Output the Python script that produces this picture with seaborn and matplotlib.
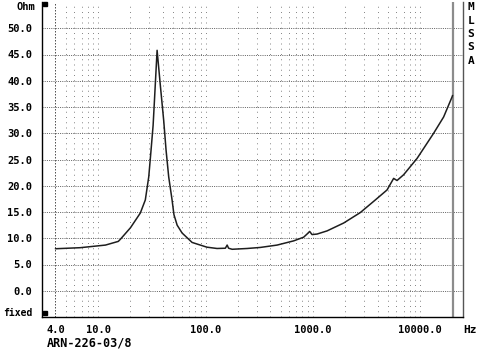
import numpy as np
import pandas as pd
import matplotlib
matplotlib.use("Agg")
import matplotlib.pyplot as plt
from matplotlib.patches import Rectangle
from matplotlib.ticker import FixedLocator, NullFormatter
import seaborn as sns

# Impedance sweep of the driver (Hz, Ohm)
freq_hz = [4.0, 6.8, 11.7, 15.4, 16.1, 20.0, 24.7, 27.5, 29.6, 31.1, 32.5, 33.4,
           35.4, 38.0, 40.8, 42.9, 45.4, 48.8, 50.8, 54.4, 60.5, 75.0,
           103, 128, 153, 159, 164, 177, 244, 324, 464, 662, 820, 882, 933,
           982, 1094, 1174, 1355, 1934, 2767, 3816, 4904, 5648, 6077, 7000,
           9331, 13320, 16500, 19760, 20000]
impedance_ohm = [8.0, 8.2, 8.7, 9.4, 9.8, 12.0, 14.8, 17.3, 21.7, 26.8, 31.5, 36.0,
                 45.8, 39.0, 32.4, 26.8, 21.7, 17.3, 14.5, 12.5, 11.0, 9.2,
                 8.3, 8.05, 8.1, 8.7, 8.1, 7.9, 8.05, 8.25, 8.7, 9.5, 10.2, 10.8, 11.3,
                 10.7, 10.8, 11.0, 11.4, 12.9, 14.9, 17.3, 19.2, 21.4, 21.0, 22.1,
                 25.2, 30.0, 33.1, 36.9, 37.2]

x_major = [4, 10, 100, 1000, 10000]
x_major_labels = ["4.0", "10.0", "100.0", "1000.0", "10000.0"]
x_minor = [m * 10 ** e for e in range(0, 4) for m in range(2, 10) if m * 10 ** e > 4]
y_major = [0, 5, 10, 15, 20, 25, 30, 35, 40, 45, 50]
y_major_labels = ["0.0", "5.0", "10.0", "15.0", "20.0", "25.0", "30.0", "35.0",
                  "40.0", "45.0", "50.0"]
x_limits = (3, 25000)
y_limits = (-5, 55)
f_start = 4
f_stop = 20000

sns.set_theme(style="white")
plt.rcParams["font.family"] = ["DejaVu Sans Mono"]
plt.rcParams["font.weight"] = "bold"

W, H = 480, 350
fig = plt.figure(figsize=(W / 100, H / 100), dpi=100)
fig.patch.set_facecolor("white")
ax = fig.add_axes([42 / W, 1 - 317 / H, 421 / W, 315 / H])
ax.set_facecolor("white")

px = 0.72  # one pixel in points

ax.set_xscale("log")
ax.set_xlim(*x_limits)
ax.set_ylim(*y_limits)

# dot grid: frequency columns with a dot at every ohm
for xm in x_minor + x_major[1:]:
    ax.axvline(xm, color="#8a8a8a", lw=px, linestyle=(0, (1, 4.25)), zorder=1)
# sweep start column
ax.axvline(f_start, color="#555555", lw=px, linestyle=(0, (1.5, 1.5)), zorder=1)
# major ohm rows
for yv in y_major:
    ax.axhline(yv, color="#666666", lw=px, linestyle=(0, (1, 1.2)), zorder=1)

ax.axvline(f_stop, color="#8c8c8c", lw=1.6, zorder=2)

df = pd.DataFrame({"Hz": freq_hz, "Ohm": impedance_ohm})
sns.lineplot(data=df, x="Hz", y="Ohm", ax=ax, color="#1e1e1e", lw=1.1,
             estimator=None, sort=False, zorder=3)
ax.set_xlabel("")
ax.set_ylabel("")

# ticks and labels
ax.xaxis.set_major_locator(FixedLocator(x_major))
ax.set_xticklabels(x_major_labels)
ax.xaxis.set_minor_locator(FixedLocator(x_minor))
ax.xaxis.set_minor_formatter(NullFormatter())
ax.tick_params(axis="x", which="major", direction="out", length=5, width=px,
               color="black", pad=0.5, labelsize=7.5, labelcolor="black")
ax.tick_params(axis="x", which="minor", direction="out", length=3, width=px,
               color="black")
ax.set_yticks(y_major)
ax.set_yticklabels(y_major_labels)
ax.tick_params(axis="y", which="both", length=0, pad=7, labelsize=7.5,
               labelcolor="black")
for lab in ax.get_xticklabels() + ax.get_yticklabels():
    lab.set_fontweight("bold")

for side in ["left", "bottom"]:
    ax.spines[side].set_color("black")
    ax.spines[side].set_linewidth(1.0)
ax.spines["right"].set_color("#555555")
ax.spines["right"].set_linewidth(1.0)
ax.spines["top"].set_visible(False)

# corner markers
for (x0, y0) in [(43, 2), (43, 311)]:
    fig.patches.append(Rectangle((x0 / W, 1 - (y0 + 4) / H), 4 / W, 4 / H,
                                 transform=fig.transFigure, color="black",
                                 zorder=5))

fig.text(35 / W, 1 - 7 / H, "Ohm", ha="right", va="center", fontsize=7.5,
         fontweight="bold", color="black")
fig.text(33 / W, 1 - 313 / H, "fixed", ha="right", va="center", fontsize=7,
         fontweight="bold", color="black")
fig.text(470 / W, 1 - 330 / H, "Hz", ha="center", va="center", fontsize=8,
         fontweight="bold", color="black")
fig.text(47 / W, 1 - 343 / H, "ARN-226-03/8", ha="left", va="center",
         fontsize=8.5, fontweight="bold", color="black")
for i, ch in enumerate("MLSSA"):
    fig.text(471 / W, 1 - (7 + 13.5 * i) / H, ch, ha="center", va="center",
             fontsize=8, fontweight="bold", color="black")

fig.savefig("out.png", dpi=100, facecolor="white")
